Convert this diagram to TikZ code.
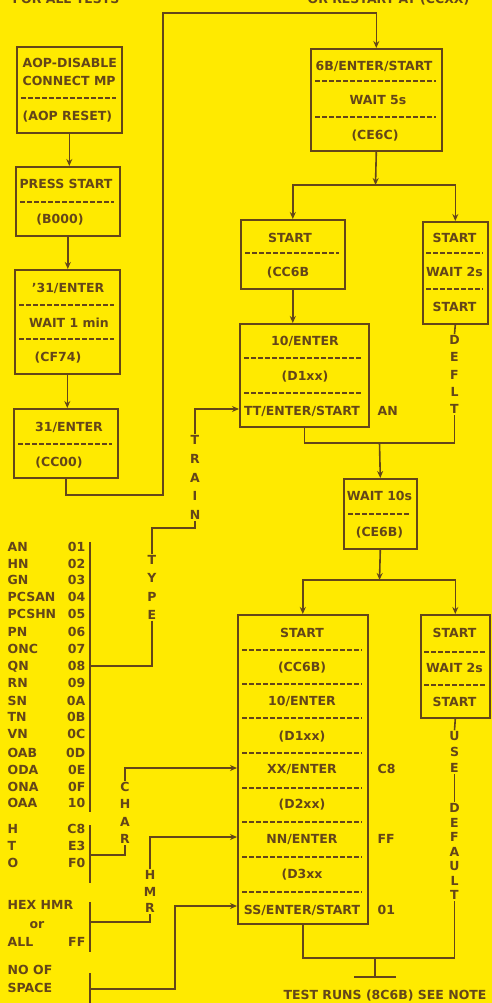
\documentclass[tikz,border=0pt]{standalone}
\usepackage{fontspec}
\setmainfont{DejaVu Sans}
\usetikzlibrary{arrows.meta}
\definecolor{bgyellow}{RGB}{255,234,0}
\definecolor{ink}{RGB}{100,70,25}
\begin{document}
\begin{tikzpicture}[x=1pt,y=-1pt,
  box/.style={draw=ink, line width=1.6pt, rectangle, inner sep=0pt, anchor=north west},
  txt/.style={text=ink, font=\bfseries\fontsize{12.5}{16}\selectfont, inner sep=0.5pt, text height=9.1pt, text depth=0pt},
  sep/.style={draw=ink, line width=1.5pt, dash pattern=on 4.5pt off 2.5pt},
  conn/.style={draw=ink, line width=1.6pt},
  arr/.style={conn, -{Stealth[length=7pt,width=6pt]}},
  vlab/.style={text=ink, align=center, inner sep=1pt},
]
\useasboundingbox (0,0) rectangle (492,1003);
\fill[bgyellow] (0,0) rectangle (492,1003);

% top (clipped) texts
\node[txt, anchor=base west, text height=, text depth=] (topl) at (12,4) {FOR ALL TESTS};
\node[txt, anchor=base east, text height=, text depth=] (topr) at (470,4) {OR RESTART AT (CCXX)};

% ---------- left column boxes ----------
\node[box, minimum width=105pt, minimum height=86pt] (aop) at (16,46) {};
\node[txt, anchor=west] (aop1) at (22,63) {AOP-DISABLE};
\node[txt, anchor=west] (aop2) at (22,81) {CONNECT MP};
\draw[sep] (21,98) -- (116,98);
\node[txt, anchor=west] (aop3) at (22,116) {(AOP RESET)};

\node[box, minimum width=104pt, minimum height=69pt] (press) at (15,166) {};
\node[txt] (press1) at (66,184) {PRESS START};
\draw[sep] (20,202) -- (114,202);
\node[txt] (press2) at (60,219) {(B000)};

\node[box, minimum width=105pt, minimum height=104pt] (c31a) at (14,269) {};
\node[txt] (c31a1) at (68,288) {'31/ENTER};
\draw[sep] (19,305) -- (114,305);
\node[txt] (c31a2) at (69,323) {WAIT 1 min};
\draw[sep] (19,339) -- (114,339);
\node[txt] (c31a3) at (58,357) {(CF74)};

\node[box, minimum width=104pt, minimum height=69pt] (c31b) at (13,408) {};
\node[txt] (c31b1) at (69,427) {31/ENTER};
\draw[sep] (18,444) -- (112,444);
\node[txt] (c31b2) at (59,462) {(CC00)};

% ---------- right column boxes ----------
\node[box, minimum width=131pt, minimum height=102pt] (e6b) at (310,48) {};
\node[txt] (e6b1) at (374,66) {6B/ENTER/START};
\draw[sep] (315,81) -- (436,81);
\node[txt] (e6b2) at (378,100) {WAIT 5s};
\draw[sep] (315,117) -- (436,117);
\node[txt] (e6b3) at (375,135) {(CE6C)};

\node[box, minimum width=104pt, minimum height=69pt] (cc6b) at (240,219) {};
\node[txt] (cc6b1) at (290,238) {START};
\draw[sep] (245,253) -- (339,253);
\node[txt] (cc6b2) at (288,272) {(CC6B};

\node[box, minimum width=65pt, minimum height=102pt] (wait2a) at (422,221) {};
\node[txt] (w2a1) at (454.5,238) {START};
\draw[sep] (426,253) -- (483,253);
\node[txt] (w2a2) at (454.5,272) {WAIT 2s};
\draw[sep] (426,289) -- (483,289);
\node[txt] (w2a3) at (454.5,307) {START};

\node[box, minimum width=129pt, minimum height=103pt] (enter10) at (239,323) {};
\node[txt] (e101) at (305,341) {10/ENTER};
\draw[sep] (244,358) -- (363,358);
\node[txt] (e102) at (305,376) {(D1xx)};
\draw[sep] (244,393) -- (363,393);
\node[txt] (tt) at (302,411) {TT/ENTER/START};
\node[txt, anchor=west] (an) at (377,411) {AN};

\node[box, minimum width=73pt, minimum height=70pt] (wait10) at (343,478) {};
\node[txt] (w101) at (379.5,496) {WAIT 10s};
\draw[sep] (348,514) -- (411,514);
\node[txt] (w102) at (379.5,532) {(CE6B)};

\node[box, minimum width=130pt, minimum height=309pt] (big) at (237,614) {};
\node[txt] (bg1) at (302,633) {START};
\draw[sep] (242,650) -- (362,650);
\node[txt] (bg2) at (302,667) {(CC6B)};
\draw[sep] (242,684) -- (362,684);
\node[txt] (bg3) at (302,701) {10/ENTER};
\draw[sep] (242,718) -- (362,718);
\node[txt] (bg4) at (302,736) {(D1xx)};
\draw[sep] (242,753) -- (362,753);
\node[txt] (xx) at (302,769) {XX/ENTER};
\draw[sep] (242,788) -- (362,788);
\node[txt] (bg6) at (302,804) {(D2xx)};
\draw[sep] (242,822) -- (362,822);
\node[txt] (nn) at (302,839) {NN/ENTER};
\draw[sep] (242,857) -- (362,857);
\node[txt] (bg8) at (302,874) {(D3xx};
\draw[sep] (242,892) -- (362,892);
\node[txt] (ss) at (302,910) {SS/ENTER/START};
\node[txt, anchor=west] (lc8) at (377,769) {C8};
\node[txt, anchor=west] (lff) at (377,839) {FF};
\node[txt, anchor=west] (l01) at (377,910) {01};

\node[box, minimum width=69pt, minimum height=103pt] (wait2b) at (420,614) {};
\node[txt] (w2b1) at (454.5,633) {START};
\draw[sep] (424,652) -- (485,652);
\node[txt] (w2b2) at (454.5,668) {WAIT 2s};
\draw[sep] (424,685) -- (485,685);
\node[txt] (w2b3) at (454.5,702) {START};

% ---------- vertical labels ----------
\node[vlab, font=\bfseries\fontsize{12.5}{18.75}\selectfont] (train) at (195,477.5) {T\\R\\A\\I\\N};
\node[vlab, font=\bfseries\fontsize{12.5}{18.3}\selectfont] (type) at (152,587.5) {T\\Y\\P\\E};
\node[vlab, font=\bfseries\fontsize{12.5}{17.3}\selectfont] (char) at (125,813) {C\\H\\A\\R};
\node[vlab, font=\bfseries\fontsize{12.5}{16.5}\selectfont] (hmr) at (150,891.5) {H\\M\\R};
\node[vlab, font=\bfseries\fontsize{12.5}{17.25}\selectfont] (deflt) at (454.5,374.5) {D\\E\\F\\L\\T};
\node[vlab, font=\bfseries\fontsize{12.5}{16}\selectfont] (use) at (454.5,752) {U\\S\\E};
\node[vlab, font=\bfseries\fontsize{12.5}{14.5}\selectfont] (dflt) at (454.5,851.5) {D\\E\\F\\A\\U\\L\\T};

% ---------- code list ----------
\foreach \n/\c/\y [count=\i] in {AN/01/547, HN/02/564, GN/03/580, PCSAN/04/597, PCSHN/05/614, PN/06/632, ONC/07/649, QN/08/666, RN/09/683, SN/0A/701, TN/0B/717, VN/0C/734, OAB/0D/753, ODA/0E/770, ONA/0F/787, OAA/10/803}{
  \node[txt, anchor=west] (n\i) at (7,\y) {\n};
  \node[txt, anchor=east] (c\i) at (86,\y) {\c};
}
\foreach \n/\c/\y [count=\i] in {H/C8/829, T/E3/846, O/F0/863}{
  \node[txt, anchor=west] (hn\i) at (7,\y) {\n};
  \node[txt, anchor=east] (hc\i) at (86,\y) {\c};
}
\node[txt, anchor=west] (hex) at (7,905) {HEX HMR};
\node[txt] (or) at (37,924) {or};
\node[txt, anchor=west] (all) at (7,942) {ALL};
\node[txt, anchor=east] (ff) at (86,942) {FF};
\node[txt, anchor=west] (noof) at (7,970) {NO OF};
\node[txt, anchor=west] (space) at (7,988) {SPACE};

% bars
\coordinate (b1t) at (90,542);
\coordinate (b1b) at (90,812);
\coordinate (b2t) at (90,825);
\coordinate (b2b) at (90,883);
\coordinate (b3t) at (90,902);
\coordinate (b3b) at (90,952);
\coordinate (b4t) at (90,973);
\coordinate (b4b) at (90,1005);
\draw[conn] (b1t) -- (b1b);
\draw[conn] (b2t) -- (b2b);
\draw[conn] (b3t) -- (b3b);
\draw[conn] (b4t) -- (b4b);

% ---------- connectors ----------
\draw[arr] (aop.south) -- (aop.south |- press.north);
\draw[arr] (press.south) -- (press.south |- c31a.north);
\draw[arr] (c31a.south) -- (c31a.south |- c31b.north);
\coordinate (bend) at (163,495);
\coordinate (topc) at (163,13);
\draw[arr] (c31b.south) |- (bend) -- (topc) -| (e6b.north);

\coordinate (j1) at (375.5,185);
\draw[arr] (e6b.south) -- (j1);
\draw[arr] (j1) -| (cc6b.north);
\draw[arr] (j1) -| (wait2a.north);
\draw[arr] (cc6b.south) -- (cc6b.south |- enter10.north);
\draw[conn] (wait2a.south) -- (deflt.north);
\coordinate (j2) at (379.5,443);
\draw[conn] (enter10.south) |- (j2) -| (deflt.south);
\draw[arr] (j2) -- (wait10.north);

\coordinate (j3) at (379.5,580);
\draw[arr] (wait10.south) -- (j3);
\draw[arr] (j3) -| (big.north);
\draw[arr] (j3) -| (wait2b.north);

\draw[conn] (wait2b.south) -- (use.north);
\draw[conn] (use.south) -- (dflt.north);
\coordinate (j4) at (375,958);
\draw[conn] (big.south) |- (j4) -| (dflt.south);
\coordinate (tb) at (375,977);
\draw[conn] (j4) -- (tb);
\draw[conn] ([xshift=-21pt]tb) -- ([xshift=21pt]tb);
\node[txt] (note) at (385,995) {TEST RUNS (8C6B) SEE NOTE};

% train / type
\draw[arr] (train.north) |- ([yshift=2pt]enter10.west |- tt);
\coordinate (tyj) at (152,528);
\draw[conn] (train.south) |- (tyj) -- (type.north);
\draw[conn] (type.south) |- (b1t |- c8);

% char
\coordinate (b2m) at (90,855);
\draw[conn] (b2m) -| (char.south);
\draw[arr] (char.north) |- ([yshift=1pt]big.west |- xx);

% hmr
\coordinate (b3m) at (90,922);
\draw[conn] (b3m) -| (hmr.south);
\draw[arr] (hmr.north) |- ([yshift=2pt]big.west |- nn);

% space
\coordinate (b4m) at (90,989);
\coordinate (sj) at (175,906);
\draw[arr] (b4m) -| (sj) -- (big.west |- sj);
\end{tikzpicture}
\end{document}
